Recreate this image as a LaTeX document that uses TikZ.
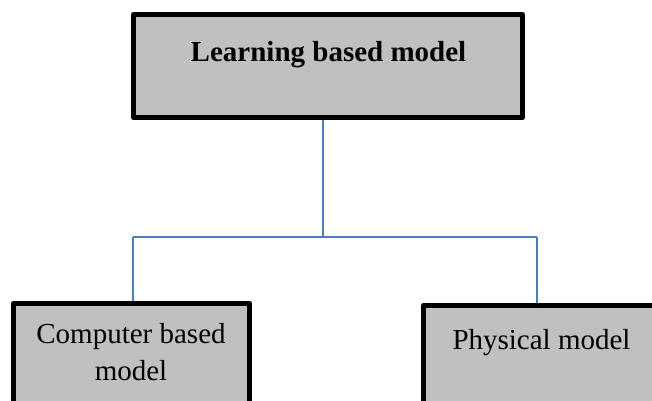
\documentclass[tikz,border=0pt]{standalone}
\usepackage{fontspec}
\setmainfont{Liberation Serif}
\usetikzlibrary{positioning}
\definecolor{boxgray}{HTML}{C0C0C0}
\definecolor{linkblue}{HTML}{4A7EBB}

\begin{document}
\begin{tikzpicture}[x=1pt,y=1pt,
        modelbox/.style={draw=black,fill=boxgray,line width=5pt,line join=round,inner sep=0pt},
        link/.style={draw=linkblue,line width=1.3pt},
        lbl/.style={font=\fontsize{29}{37}\selectfont,align=center,anchor=base}]
                \useasboundingbox (0,0) rectangle (652,400);
                \clip (0,0) rectangle (652,400);
                % boxes
                \node[modelbox,minimum width=389pt,minimum height=103pt] (learn) at (328,334) {};
                \node[modelbox,minimum width=236pt,minimum height=120pt,anchor=north] (comp) at (131.5,99) {};
                \node[modelbox,minimum width=236pt,minimum height=120pt,anchor=north] (phys) at (541.5,97) {};
                \node[lbl,font=\bfseries\fontsize{29}{37}\selectfont] (learntxt) at (328.5,339) {Learning based model};
                \node[lbl] (comptxt) at (131,20) {Computer based\\model};
                \node[lbl] (phystxt) at (541.5,51) {Physical model};
                % connectors
                \coordinate (fork) at (323,163);
                \coordinate (lend) at (133,163);
                \coordinate (rend) at (537,163);
                \draw[link] (learn.south -| fork) -- (fork);
                \draw[link] (lend) -- (rend);
                \draw[link] (lend) -- (lend |- comp.north);
                \draw[link] (rend) -- (rend |- phys.north);
            \end{tikzpicture}
\end{document}
